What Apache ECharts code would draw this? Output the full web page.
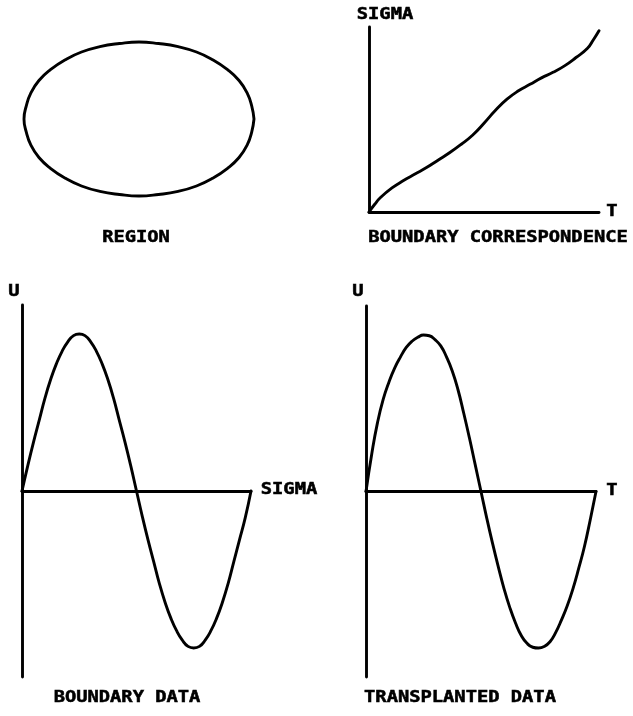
<!DOCTYPE html>
<html>
<head>
<meta charset="utf-8">
<script src="https://cdn.jsdelivr.net/npm/echarts@6/dist/echarts.min.js"></script>
<style>
  html, body { margin: 0; padding: 0; background: #fff; }
  #main { width: 633px; height: 716px; }
</style>
</head>
<body>
<div id="main"></div>
<script>
// region outline (unit box, center at 0,0)
const regionX = [1, 0.98, 0.94, 0.87, 0.77, 0.64, 0.5, 0.34, 0.17, 0, -0.17, -0.34, -0.5, -0.64, -0.77, -0.87, -0.94, -0.98, -1, -0.98, -0.94, -0.87, -0.77, -0.64, -0.5, -0.34, -0.17, 0, 0.17, 0.34, 0.5, 0.64, 0.77, 0.87, 0.94, 0.98, 1]
const regionY = [0, 0.17, 0.34, 0.5, 0.64, 0.77, 0.87, 0.94, 0.98, 1, 0.98, 0.94, 0.87, 0.77, 0.64, 0.5, 0.34, 0.17, 0, -0.17, -0.34, -0.5, -0.64, -0.77, -0.87, -0.94, -0.98, -1, -0.98, -0.94, -0.87, -0.77, -0.64, -0.5, -0.34, -0.17, 0]

// boundary correspondence  sigma(T)
const corrT = [0, 0.025, 0.05, 0.1, 0.15, 0.2, 0.25, 0.3, 0.35, 0.4, 0.45, 0.5, 0.55, 0.6, 0.65, 0.7, 0.75, 0.8, 0.85, 0.9, 0.95, 0.975, 1.0]
const corrSigma = [0, 0.042, 0.078, 0.13, 0.17, 0.205, 0.24, 0.28, 0.32, 0.365, 0.415, 0.48, 0.55, 0.61, 0.655, 0.69, 0.725, 0.755, 0.79, 0.835, 0.885, 0.93, 0.98]

// boundary data  U(sigma)
const dataSigma = [0, 0.025, 0.05, 0.075, 0.1, 0.125, 0.15, 0.175, 0.2, 0.225, 0.25, 0.275, 0.3, 0.325, 0.35, 0.375, 0.4, 0.425, 0.45, 0.475, 0.5,
  0.525, 0.55, 0.575, 0.6, 0.625, 0.65, 0.675, 0.7, 0.725, 0.75, 0.775, 0.8, 0.825, 0.85, 0.875, 0.9, 0.925, 0.95, 0.975, 1.0]
const dataU = [0, 0.16, 0.31, 0.45, 0.59, 0.71, 0.81, 0.89, 0.95, 0.99, 1.0, 0.99, 0.95, 0.89, 0.81, 0.71, 0.59, 0.45, 0.31, 0.16, 0,
  -0.16, -0.31, -0.45, -0.59, -0.71, -0.81, -0.89, -0.95, -0.99, -1.0, -0.99, -0.95, -0.89, -0.81, -0.71, -0.59, -0.45, -0.31, -0.17, 0]

// transplanted data  U(T)
const transT = [0, 0.025, 0.05, 0.075, 0.1, 0.125, 0.15, 0.175, 0.2, 0.225, 0.25, 0.275, 0.3, 0.325, 0.35, 0.375, 0.4, 0.425, 0.45, 0.475, 0.5,
  0.525, 0.55, 0.575, 0.6, 0.625, 0.65, 0.675, 0.7, 0.725, 0.75, 0.775, 0.8, 0.825, 0.85, 0.875, 0.9, 0.925, 0.95, 0.975, 1.0]
const transU = [0, 0.24, 0.44, 0.59, 0.7, 0.79, 0.86, 0.92, 0.96, 0.985, 1.0, 0.995, 0.97, 0.93, 0.86, 0.77, 0.65, 0.5, 0.34, 0.17, 0,
  -0.17, -0.33, -0.48, -0.62, -0.74, -0.84, -0.92, -0.97, -0.995, -1.0, -0.99, -0.96, -0.9, -0.82, -0.73, -0.62, -0.49, -0.35, -0.18, 0]

const panelTitles = ['REGION', 'BOUNDARY CORRESPONDENCE', 'BOUNDARY DATA', 'TRANSPLANTED DATA']

const zip = (xs, ys) => xs.map((x, i) => [x, ys[i]])

const INK = '#000'
const LW = 2.9
const FONT = 'bold 15px "DejaVu Sans Mono", monospace'

const hiddenAxis = (gridIndex, min, max) => ({
  type: 'value', gridIndex, min, max, show: false
})
const inkAxis = (gridIndex, min, max) => ({
  type: 'value', gridIndex, min, max,
  axisLine: { show: true, onZero: true, lineStyle: { color: INK, width: LW } },
  axisTick: { show: false },
  axisLabel: { show: false },
  splitLine: { show: false }
})
const curve = (idx, data, smooth) => ({
  type: 'line', xAxisIndex: idx, yAxisIndex: idx,
  data, smooth, showSymbol: false, clip: false, silent: true,
  lineStyle: { color: INK, width: LW, cap: 'round', join: 'round' }
})
const label = (text, x, y) => ({
  type: 'text', x, y, scaleX: 1.25, silent: true,
  style: { text, font: FONT, fill: INK, stroke: INK, lineWidth: 0.5, align: 'center', verticalAlign: 'middle' }
})

const myChart = echarts.init(document.getElementById('main'))
myChart.setOption({
  backgroundColor: '#fff',
  animation: false,
  grid: [
    { left: 24, top: 42, width: 230, height: 154 },
    { left: 369, top: 27, width: 230, height: 185 },
    { left: 22, top: 305, width: 229, height: 372 },
    { left: 366, top: 306, width: 230, height: 371 }
  ],
  xAxis: [
    hiddenAxis(0, -1, 1),
    inkAxis(1, 0, 1),
    inkAxis(2, 0, 1),
    inkAxis(3, 0, 1)
  ],
  yAxis: [
    hiddenAxis(0, -1, 1),
    inkAxis(1, 0, 1),
    inkAxis(2, -1.185, 1.185),
    inkAxis(3, -1.185, 1.185)
  ],
  series: [
    curve(0, zip(regionX, regionY), 0.5),
    curve(1, zip(corrT, corrSigma), 0.5),
    curve(2, zip(dataSigma, dataU), 0.5),
    curve(3, zip(transT, transU), 0.5)
  ],
  graphic: [
    label(panelTitles[0], 136, 238),
    label(panelTitles[1], 498, 238),
    label(panelTitles[2], 127, 698),
    label(panelTitles[3], 460, 698),
    label('SIGMA', 385, 15),
    label('T', 612, 212),
    label('U', 14, 292),
    label('SIGMA', 289, 490),
    label('U', 358, 292),
    label('T', 612, 491)
  ]
})
</script>
</body>
</html>
